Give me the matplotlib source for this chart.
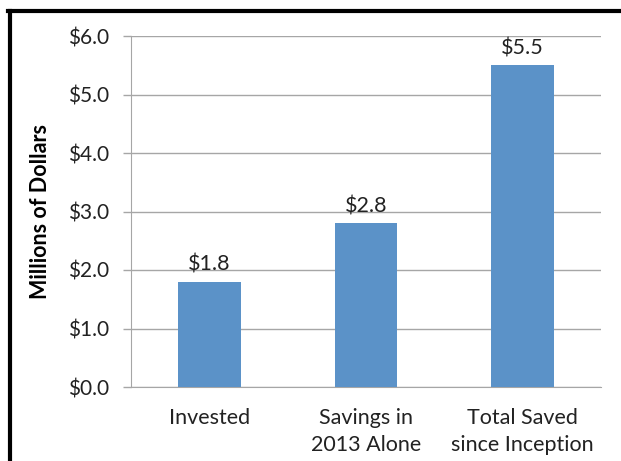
import matplotlib.pyplot as plt
from matplotlib.lines import Line2D

categories = ["Invested", "Savings in\n2013 Alone", "Total Saved\nsince Inception"]
values = [1.8, 2.8, 5.5]
yticks = [0.0, 1.0, 2.0, 3.0, 4.0, 5.0, 6.0]

plt.rcParams['font.family'] = ['Lato', 'DejaVu Sans']

fig = plt.figure(figsize=(6.21, 4.61), dpi=100)
ax = fig.add_axes([131 / 621, 1 - 387 / 461, 470 / 621, 351 / 461])

x = range(len(categories))
ax.bar(x, values, width=0.4, color="#5b92c8", zorder=3)
for xi, v in zip(x, values):
    ax.text(xi, v + 0.12, "$%.1f" % v, ha="center", va="bottom", fontsize=15.5, color="#222222")

ax.set_xlim(-0.5, 2.5)
ax.set_ylim(0, 6)
ax.set_yticks(yticks)
ax.set_yticklabels(["$%.1f" % t for t in yticks], fontsize=15, color="#222222")
ax.set_xticks(list(x))
ax.set_xticklabels(categories, fontsize=15.5, color="#222222", linespacing=1.45)
ax.tick_params(axis="x", length=0, pad=15)
ax.tick_params(axis="y", length=6, color="#a6a6a6", width=1, pad=10)
ax.grid(axis="y", color="#a6a6a6", linewidth=1, zorder=0)
for s in ["top", "right"]:
    ax.spines[s].set_visible(False)
for s in ["left", "bottom"]:
    ax.spines[s].set_color("#a6a6a6")
ax.set_ylabel("Millions of Dollars", fontsize=15.5, fontweight="bold", labelpad=12)

# frame around the picture
fig.add_artist(Line2D([9.5 / 621, 9.5 / 621], [0, 1 - 11.5 / 461], color="black", lw=3, transform=fig.transFigure))
fig.add_artist(Line2D([8 / 621, 1], [1 - 11.5 / 461, 1 - 11.5 / 461], color="black", lw=3, transform=fig.transFigure))

fig.savefig("out.png", dpi=100)
